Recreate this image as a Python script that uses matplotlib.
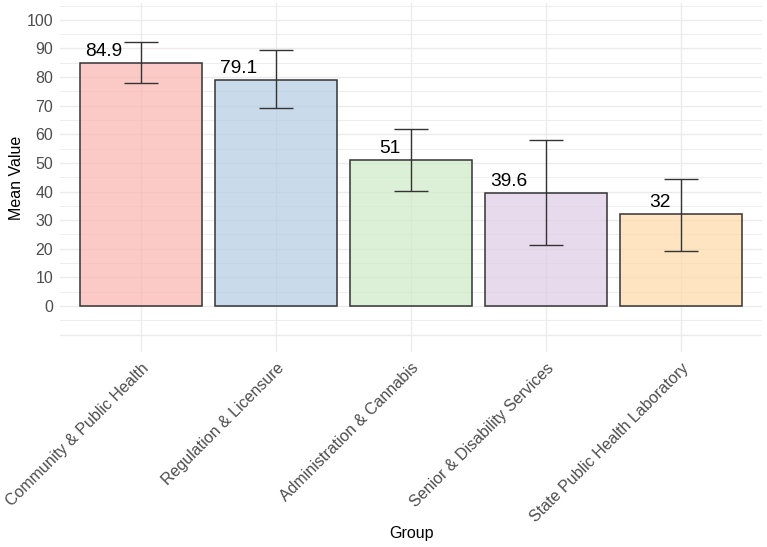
import numpy as np
import matplotlib
matplotlib.use("Agg")
import matplotlib.pyplot as plt
from matplotlib.colors import to_rgba

plt.rcParams['font.family'] = ['Liberation Sans', 'DejaVu Sans']

# data
groups = [
    "Community & Public Health",
    "Regulation & Licensure",
    "Administration & Cannabis",
    "Senior & Disability Services",
    "State Public Health Laboratory",
]
means = [84.9, 79.1, 51, 39.6, 32]
upper = [92.1, 89.4, 61.9, 57.9, 44.4]
lower = [78.1, 69.1, 40.2, 21.2, 19.2]
labels = ["84.9", "79.1", "51", "39.6", "32"]
colors = ["#FBB4AE", "#B3CDE3", "#CCEBC5", "#DECBE4", "#FED9A6"]

x = np.arange(1, len(groups) + 1)
means_arr = np.array(means)
err = [means_arr - np.array(lower), np.array(upper) - means_arr]

fig = plt.figure(figsize=(7.67, 5.47), dpi=100)
ax = fig.add_axes([60 / 767, 1 - 352 / 547, 702 / 767, 349 / 547])

# grid like theme_minimal
for v in np.arange(-10, 106, 10):
    ax.axhline(v, color="#EBEBEB", lw=1.0, zorder=0)
for v in np.arange(-5, 106, 10):
    ax.axhline(v, color="#EBEBEB", lw=0.6, zorder=0)
for xi in x:
    ax.axvline(xi, color="#EBEBEB", lw=1.0, zorder=0)

ax.bar(x, means, width=0.9, color=[to_rgba(c, 0.7) for c in colors],
       edgecolor="#333333", linewidth=1.1, zorder=2)
ax.errorbar(x, means, yerr=err, fmt="none", ecolor="#333333", elinewidth=1.0,
            capsize=12.2, capthick=1.0, zorder=3)

# value labels: ggplot hjust=1.5, vjust=-0.5 style
for xi, m, lab in zip(x, means, labels):
    anchor = ax.text(xi, m, lab, fontsize=13.8, ha="center", va="bottom", alpha=0)
    ax.annotate(lab, xy=(0, 0), xycoords=anchor, xytext=(0, 5),
                textcoords="offset points", ha="right", va="baseline",
                fontsize=13.8, color="black", zorder=4)

ax.set_xlim(0.4, 5.6)
ax.set_ylim(-16.1, 105.9)
ax.set_yticks(np.arange(0, 101, 10))
ax.set_xticks(x)
ax.set_xticklabels(groups, rotation=45, ha="right", va="top", rotation_mode="anchor")
ax.tick_params(axis="both", length=0, labelsize=11.5, labelcolor="#4D4D4D")
ax.tick_params(axis="y", pad=5)
ax.tick_params(axis="x", pad=6)
for s in ax.spines.values():
    s.set_visible(False)

ax.set_xlabel("Group", fontsize=11.5, color="black")
ax.set_ylabel("Mean Value", fontsize=11.5, color="black")
ax.xaxis.set_label_coords(0.5, -0.499)
ax.yaxis.set_label_coords(-0.051, 0.5)

fig.savefig("out.png", dpi=100)
